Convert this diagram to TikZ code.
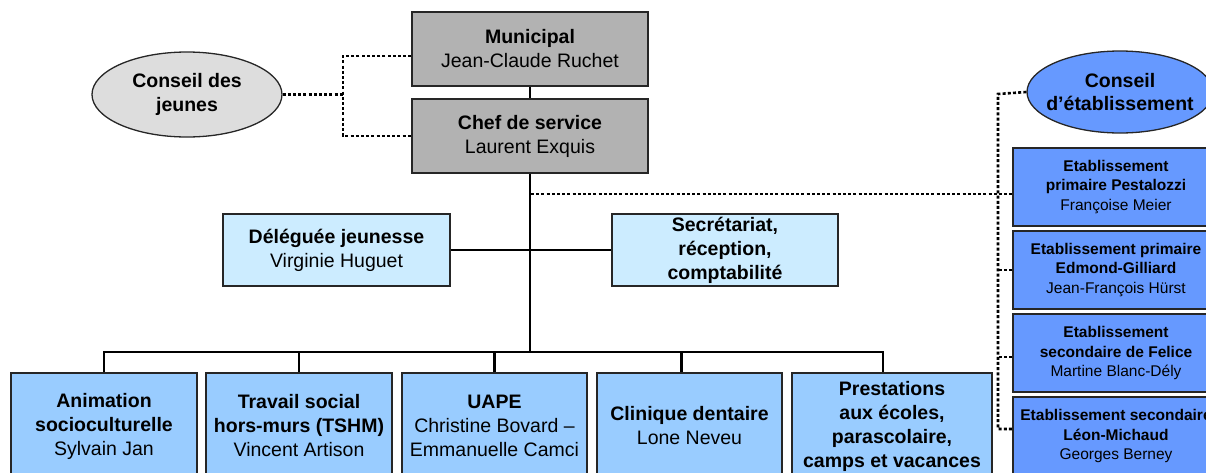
\documentclass[tikz,border=0pt]{standalone}
\usepackage{fontspec}
\setmainfont{Liberation Sans}
\usetikzlibrary{shapes.geometric}

\definecolor{grisbox}{HTML}{B2B2B2}
\definecolor{grisell}{HTML}{DDDDDD}
\definecolor{bleuclair}{HTML}{CCECFF}
\definecolor{bleumoyen}{HTML}{99CCFF}
\definecolor{bleufonce}{HTML}{6699FF}

\begin{document}
\begin{tikzpicture}[x=1pt, y=-1pt]
      \tikzstyle{STY1} = [draw=black!85, line width=1.3pt, rectangle, inner sep=0pt, align=center, font=\fontsize{19.5}{24}\selectfont]
      \tikzstyle{STY2} = [STY1, fill=grisbox, minimum width=236pt, minimum height=74pt]
      \tikzstyle{STY3} = [STY1, fill=bleuclair, minimum height=72pt]
      \tikzstyle{STY4} = [STY1, fill=bleumoyen, minimum height=106pt]
      \tikzstyle{STY5} = [STY1, fill=bleufonce, minimum width=206pt, minimum height=78pt, font=\fontsize{15.5}{19.3}\selectfont]
      \tikzstyle{STY6} = [STY1, ellipse, font=\bfseries\fontsize{19.5}{23.5}\selectfont]
      \tikzstyle{STY7} = [line width=2.9pt, black]
      \tikzstyle{STY8} = [line width=2.6pt, black, dash pattern=on 3pt off 2.2pt]

      \useasboundingbox (0,0) rectangle (1206,472);

      %%%%% VERTEX

      \node[STY2](vmun) at (530, 49) {\textbf{Municipal}\\Jean-Claude Ruchet};
      \node[STY2](vchef) at (530, 136) {\textbf{Chef de service}\\Laurent Exquis};

      \node[STY6, fill=grisell, minimum width=190pt, minimum height=85pt](vcdj) at (187, 94.5) {Conseil des\\jeunes};
      \node[STY6, fill=bleufonce, inner xsep=-9pt, minimum width=186pt, minimum height=82pt](vcde) at (1120, 92) {Conseil\\d’établissement};

      \node[STY3, minimum width=227pt](vdel) at (336.5, 250) {\textbf{Déléguée jeunesse}\\Virginie Huguet};
      \node[STY3, minimum width=226pt](vsec) at (725, 250) {\textbf{Secrétariat,}\\\textbf{réception,}\\\textbf{comptabilité}};

      \node[STY4, minimum width=186pt](vanim) at (104, 426) {\textbf{Animation}\\\textbf{socioculturelle}\\Sylvain Jan};
      \node[STY4, minimum width=186pt](vtshm) at (299, 426) {\textbf{Travail social}\\\textbf{hors-murs (TSHM)}\\Vincent Artison};
      \node[STY4, minimum width=185pt](vuape) at (494.5, 426) {\textbf{UAPE}\\Christine Bovard –\\Emmanuelle Camci};
      \node[STY4, minimum width=185pt](vclin) at (689.5, 426) {\textbf{Clinique dentaire}\\Lone Neveu};
      \node[STY4, minimum width=200pt](vprest) at (892, 426) {\textbf{Prestations}\\\textbf{aux écoles,}\\\textbf{parascolaire,}\\\textbf{camps et vacances}};

      \node[STY5](vpest) at (1116, 187) {\textbf{Etablissement}\\\textbf{primaire Pestalozzi}\\Françoise Meier};
      \node[STY5](vedm) at (1116, 270) {\textbf{Etablissement primaire}\\\textbf{Edmond-Gilliard}\\Jean-François Hürst};
      \node[STY5](vfel) at (1116, 353) {\textbf{Etablissement}\\\textbf{secondaire de Felice}\\Martine Blanc-Dély};
      \node[STY5](vleon) at (1116, 436) {\textbf{Etablissement secondaire}\\\textbf{Léon-Michaud}\\Georges Berney};

      \coordinate (cbus) at (530, 352);
      \coordinate (cdot) at (531, 194);
      \coordinate (cjeu) at (343, 97);
      \coordinate (cetab) at (998, 94);

      %%%%% EDGES
      \draw[STY7] (vmun) -- (vchef);
      \draw[STY7] (vchef.south) -- (cbus);
      \draw[STY7] (vdel.east) -- (vsec.west);

      \draw[STY7] (vanim.north) -- (vanim.north |- cbus) -- ([xshift=-9pt]vprest.north |- cbus) -- ([xshift=-9pt]vprest.north);
      \draw[STY7] (vtshm.north) -- (vtshm.north |- cbus);
      \draw[STY7] (vuape.north) -- (vuape.north |- cbus);
      \draw[STY7] ([xshift=-8pt]vclin.north) -- ([xshift=-8pt]vclin.north |- cbus);

      \draw[STY8] (vcdj.east) -- (vcdj.east -| cjeu);
      \draw[STY8] ([yshift=-7pt]vmun.west) -| (cjeu) |- (vchef.west);

      \draw[STY8] (cdot) -- ([yshift=-7pt]vpest.west);
      \draw[STY8] (vcde.west) -- (cetab) |- ([yshift=7pt]vleon.west);
      \draw[STY8] (vedm.west) -- (vedm.west -| cetab);
      \draw[STY8] ([yshift=-4pt]vfel.west) -- ([yshift=-4pt]vfel.west -| cetab);
\end{tikzpicture}
\end{document}
